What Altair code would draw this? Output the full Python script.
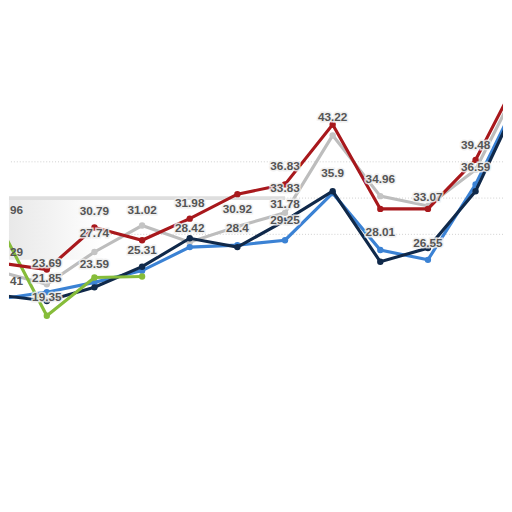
import altair as alt
import pandas as pd

# category index (0..11) along x
idx = list(range(12))

# series values (in the chart's own y units)
red = [26.08, 25.14, 30.95, 29.19, 32.16, 35.54, 36.89, 45.14, 33.51, 33.51, 40.27, 52.97]
gray = [24.86, 23.11, 27.57, 31.22, 28.92, 31.08, 32.97, 43.65, 35.27, 33.92, 38.92, 51.89]
navy = [21.62, 20.81, 22.70, 25.54, 29.46, 28.24, 31.89, 35.95, 26.22, 28.11, 35.95, 49.86]
blue = [21.08, 22.03, 23.38, 25.00, 28.24, 28.51, 29.19, 35.68, 27.84, 26.49, 36.89, 50.27]
green = [31.35, 18.78, 24.05, 24.19]

# data labels: category index, vertical position, text
label_idx = [1, 1, 1, 2, 2, 2, 3, 3, 4, 4, 5, 5, 6, 6, 6, 6, 7, 7, 8, 8, 9, 9, 10, 10]
label_pos = [26.08, 23.92, 21.35, 33.24, 30.14, 25.95, 33.38, 27.84,
             34.32, 30.81, 33.51, 30.81, 39.46, 36.35, 34.19, 32.03, 46.22, 38.51,
             37.57, 30.27, 35.14, 28.78, 42.30, 39.32]
label_text = ["23.69", "21.85", "19.35", "30.79", "27.74", "23.59",
              "31.02", "25.31", "31.98", "28.42", "30.92", "28.4", "36.83", "33.83", "31.78",
              "29.25", "43.22", "35.9", "34.96", "28.01", "33.07", "26.55", "39.48", "36.59"]

# partial labels visible at the left edge
edge_pos = [33.38, 27.57, 23.51]
edge_text = ["96", "29", "41"]

grid_values = [30, 35, 40]

series = [
    ("gray", gray, "#bdbdbd", "#c4c4c4"),
    ("blue", blue, "#3b82d4", "#3b82d4"),
    ("navy", navy, "#10294a", "#10294a"),
    ("green", green, "#86bc3a", "#86bc3a"),
    ("red", red, "#a8181c", "#a8181c"),
]

x_lo, x_hi = 0.2058, 10.576
xs = alt.Scale(domain=[x_lo, x_hi], nice=False, zero=False)
ys = alt.Scale(domain=[-5.68, 60.54], nice=False, zero=False)

layers = []

grid_df = pd.DataFrame({"v": grid_values})
layers.append(
    alt.Chart(grid_df).mark_rule(strokeDash=[1, 2], color="#cfcfcf", strokeWidth=1)
    .encode(y=alt.Y("v:Q", scale=ys, axis=None))
)

# light shading / shadow band on the left
shade_df = pd.DataFrame({"x0": [0], "x1": [2.2], "y0": [26.5], "y1": [35.0]})
layers.append(
    alt.Chart(shade_df).mark_rect(
        clip=True,
        color=alt.Gradient(
            gradient="linear",
            stops=[alt.GradientStop(color="#e6e6e6", offset=0),
                   alt.GradientStop(color="#ffffff", offset=1)],
            x1=0, x2=1, y1=0, y2=0,
        ),
    ).encode(
        x=alt.X("x0:Q", scale=xs, axis=None), x2="x1:Q",
        y=alt.Y("y0:Q", scale=ys, axis=None), y2="y1:Q",
    )
)
band_df = pd.DataFrame({"x0": [0], "x1": [6], "v": [35.0]})
layers.append(
    alt.Chart(band_df).mark_rule(clip=True, color="#dedede", strokeWidth=4)
    .encode(x=alt.X("x0:Q", scale=xs, axis=None), x2="x1:Q",
            y=alt.Y("v:Q", scale=ys, axis=None))
)

for name, vals, col, pcol in series:
    df = pd.DataFrame({"i": idx[: len(vals)], "v": vals})
    base = alt.Chart(df).encode(
        x=alt.X("i:Q", scale=xs, axis=None),
        y=alt.Y("v:Q", scale=ys, axis=None),
    )
    layers.append(base.mark_line(clip=True, strokeWidth=3.2, color=col))
    layers.append(base.mark_circle(clip=True, size=42, color=pcol, opacity=1))

lab_df = pd.DataFrame({"i": label_idx, "v": label_pos, "t": label_text})
lab_base = alt.Chart(lab_df).encode(
    x=alt.X("i:Q", scale=xs, axis=None),
    y=alt.Y("v:Q", scale=ys, axis=None),
    text="t:N",
)
text_style = dict(fontSize=12, fontWeight="bold", font="Liberation Sans",
                  baseline="middle", align="center", clip=True)
# soft halo behind labels
layers.append(lab_base.mark_text(color="#eeeeee", stroke="#eeeeee", strokeWidth=3,
                                 strokeOpacity=0.85, **text_style))
layers.append(lab_base.mark_text(color="#555555", **text_style))

edge_df = pd.DataFrame({"i": [x_lo] * len(edge_pos), "v": edge_pos, "t": edge_text})
layers.append(
    alt.Chart(edge_df).mark_text(
        fontSize=12, fontWeight="bold", color="#555555",
        font="Liberation Sans", baseline="middle", align="left", dx=1,
    ).encode(
        x=alt.X("i:Q", scale=xs, axis=None),
        y=alt.Y("v:Q", scale=ys, axis=None),
        text="t:N",
    )
)

chart = alt.layer(*layers).properties(width=504, height=490, padding=0).configure_view(stroke=None)

chart.save("out.html", embed_options={"renderer": "svg", "actions": False})
